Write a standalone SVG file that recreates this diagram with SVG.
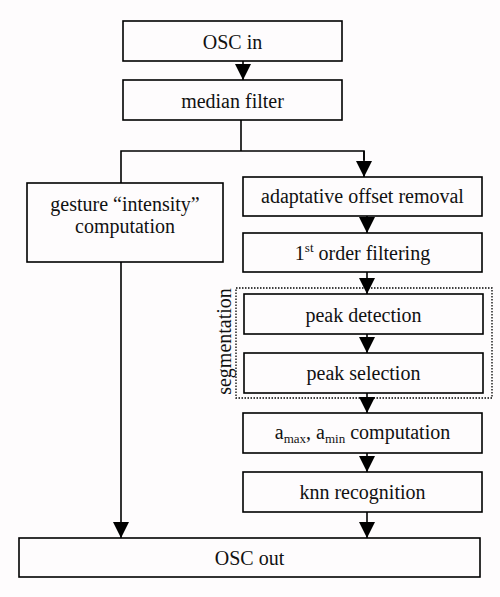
<svg xmlns="http://www.w3.org/2000/svg" width="500" height="597" viewBox="0 0 500 597">
<defs>
<marker id="arr" markerUnits="userSpaceOnUse" markerWidth="16" markerHeight="16" viewBox="0 0 16 16" refX="16" refY="8" orient="auto">
<path d="M0,0 L16,8 L0,16 z" fill="#000"/>
</marker>
</defs>
<style>
.box{fill:#fefcfd;stroke:#000;stroke-width:1.6}
.t{font-family:'Liberation Serif','Times New Roman',serif;font-size:20px;fill:#111;text-anchor:middle}
.c{fill:none;stroke:#000;stroke-width:1.6}
.a{fill:none;stroke:#000;stroke-width:1.6;marker-end:url(#arr)}
</style>
<rect x="0" y="0" width="500" height="597" fill="#fefcfd"/>
<g id="connectors">
<line class="a" x1="243" y1="61" x2="243" y2="80"/>
<polyline class="c" points="241,120 241,151"/>
<polyline class="c" points="121,183 121,151 364,151 364,160"/>
<line class="a" x1="364" y1="151" x2="364" y2="177"/>
<line class="a" x1="367" y1="216" x2="367" y2="233"/>
<line class="a" x1="367" y1="272" x2="367" y2="294"/>
<line class="a" x1="367" y1="334" x2="367" y2="353"/>
<line class="a" x1="367" y1="393" x2="367" y2="413"/>
<line class="a" x1="367" y1="453" x2="367" y2="472"/>
<line class="a" x1="367" y1="512" x2="367" y2="538"/>
<line class="a" x1="121" y1="262" x2="121" y2="538"/>
</g>
<g id="segmentation">
<rect x="236" y="288" width="256" height="110" fill="none" stroke="#000" stroke-width="1.3" stroke-dasharray="1.5,1.5"/>
<text class="t" transform="translate(231,341.5) rotate(-90)" x="0" y="0">segmentation</text>
</g>
<g id="osc_in"><rect class="box" x="123" y="21" width="219" height="40"/><text class="t" x="232.5" y="49">OSC in</text></g>
<g id="median"><rect class="box" x="123" y="80" width="219" height="40"/><text class="t" x="232.5" y="108">median filter</text></g>
<g id="gesture"><rect class="box" x="27" y="183" width="196" height="79"/><text class="t" x="125" y="211">gesture “intensity”</text><text class="t" x="125" y="233">computation</text></g>
<g id="adaptive"><rect class="box" x="243" y="177" width="239" height="39"/><text class="t" x="362.5" y="203">adaptative offset removal</text></g>
<g id="first"><rect class="box" x="243" y="233" width="239" height="39"/><text class="t" x="362.5" y="260">1<tspan font-size="13" dy="-8">st</tspan><tspan dy="8"> order filtering</tspan></text></g>
<g id="peak_detection"><rect class="box" x="244" y="294" width="239" height="40"/><text class="t" x="363.5" y="322">peak detection</text></g>
<g id="peak_selection"><rect class="box" x="244" y="353" width="239" height="40"/><text class="t" x="363.5" y="380">peak selection</text></g>
<g id="amax"><rect class="box" x="243" y="413" width="239" height="40"/><text class="t" x="362.5" y="439">a<tspan font-size="13" dy="4">max</tspan><tspan dy="-4">, a</tspan><tspan font-size="13" dy="4">min</tspan><tspan dy="-4"> computation</tspan></text></g>
<g id="knn"><rect class="box" x="243" y="472" width="239" height="40"/><text class="t" x="362.5" y="499">knn recognition</text></g>
<g id="osc_out"><rect class="box" x="19" y="538" width="461" height="39"/><text class="t" x="249.5" y="565">OSC out</text></g>
</svg>
